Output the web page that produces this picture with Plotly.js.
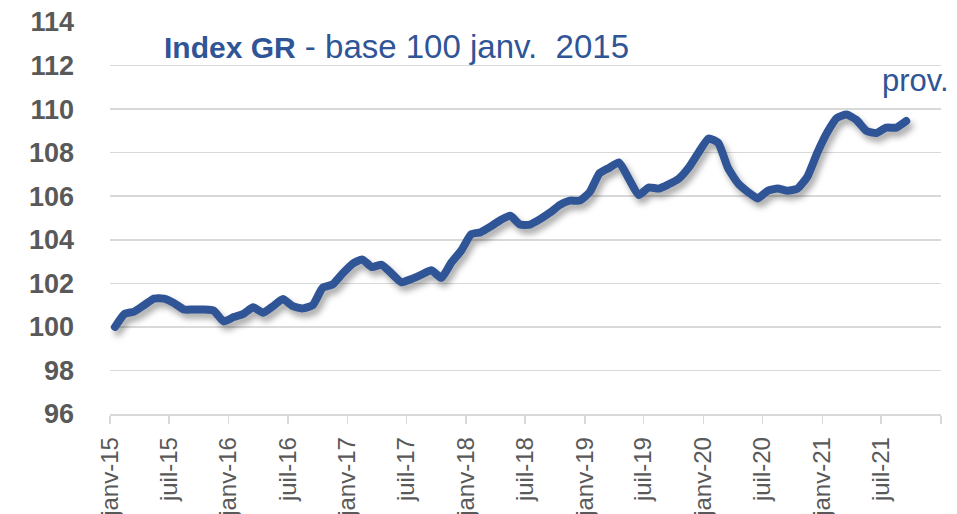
<!DOCTYPE html>
<html>
<head>
<meta charset="utf-8">
<script src="https://cdn.plot.ly/plotly-3.0.1.min.js"></script>
<style>
  html, body { margin: 0; padding: 0; background: #fff; }
  #chart { width: 957px; height: 514px; }
  .scatterlayer .js-line {
    stroke-linejoin: round !important;
    stroke-linecap: round !important;
    filter: drop-shadow(3px 5px 3px rgba(0,0,0,0.35));
  }
</style>
</head>
<body>
<div id="chart"></div>
<script>
// Monthly dates (Jan 2015 - Sep 2021)
const months = [
  "2015-01","2015-02","2015-03","2015-04","2015-05","2015-06","2015-07","2015-08","2015-09","2015-10","2015-11","2015-12",
  "2016-01","2016-02","2016-03","2016-04","2016-05","2016-06","2016-07","2016-08","2016-09","2016-10","2016-11","2016-12",
  "2017-01","2017-02","2017-03","2017-04","2017-05","2017-06","2017-07","2017-08","2017-09","2017-10","2017-11","2017-12",
  "2018-01","2018-02","2018-03","2018-04","2018-05","2018-06","2018-07","2018-08","2018-09","2018-10","2018-11","2018-12",
  "2019-01","2019-02","2019-03","2019-04","2019-05","2019-06","2019-07","2019-08","2019-09","2019-10","2019-11","2019-12",
  "2020-01","2020-02","2020-03","2020-04","2020-05","2020-06","2020-07","2020-08","2020-09","2020-10","2020-11","2020-12",
  "2021-01","2021-02","2021-03","2021-04","2021-05","2021-06","2021-07","2021-08","2021-09"
];

// Index GR values (base 100 = janv. 2015)
const indexGR = [
  100.0, 100.6, 100.7, 101.0, 101.3, 101.3, 101.1, 100.8, 100.8, 100.8, 100.75, 100.25,
  100.45, 100.6, 100.9, 100.65, 100.95, 101.28, 100.95, 100.85, 101.0, 101.8, 101.95, 102.45,
  102.9, 103.1, 102.75, 102.85, 102.45, 102.05, 102.2, 102.4, 102.6, 102.25, 102.95, 103.5,
  104.25, 104.35, 104.6, 104.9, 105.1, 104.7, 104.7, 104.95, 105.25, 105.6, 105.8, 105.8,
  106.2, 107.05, 107.3, 107.55, 106.8, 106.05, 106.4, 106.35, 106.55, 106.8, 107.3, 108.0,
  108.65, 108.45, 107.3, 106.6, 106.2, 105.9, 106.25, 106.35, 106.25, 106.35, 106.9, 108.0,
  108.95, 109.6, 109.75, 109.5, 109.0, 108.9, 109.15, 109.15, 109.45
];

// X tick positions and labels
const tickDates = [
  "2015-01-01","2015-07-01","2016-01-01","2016-07-01","2017-01-01","2017-07-01","2018-01-01",
  "2018-07-01","2019-01-01","2019-07-01","2020-01-01","2020-07-01","2021-01-01","2021-07-01","2022-01-01"
];
const tickLabels = [
  "janv-15","juil-15","janv-16","juil-16","janv-17","juil-17","janv-18",
  "juil-18","janv-19","juil-19","janv-20","juil-20","janv-21","juil-21",""
];

const yTicks = [96, 98, 100, 102, 104, 106, 108, 110, 112, 114];

const blue = "#2F5597";
const grey = "#595959";
const gridc = "#D9D9D9";
const fontFam = "Arial, 'Liberation Sans', sans-serif";

const trace = {
  x: months,
  y: indexGR,
  xperiod: "M1",
  xperiodalignment: "middle",
  type: "scatter",
  mode: "lines",
  line: { color: blue, width: 8, shape: "spline", smoothing: 0.5 },
  hoverinfo: "x+y"
};

const layout = {
  width: 957,
  height: 514,
  margin: { l: 110, r: 16, t: 22, b: 100, pad: 0 },
  paper_bgcolor: "#fff",
  plot_bgcolor: "#fff",
  showlegend: false,
  font: { family: fontFam, color: grey },
  xaxis: {
    type: "date",
    range: ["2015-01-01", "2022-01-01"],
    tickmode: "array",
    tickvals: tickDates,
    ticktext: tickLabels,
    tickangle: -90,
    tickfont: { family: fontFam, size: 24, color: grey },
    showgrid: false,
    zeroline: false,
    showline: true,
    linecolor: gridc,
    linewidth: 1.5,
    ticks: "outside",
    ticklen: 8,
    tickwidth: 1.5,
    tickcolor: gridc,
    ticklabelstandoff: 4,
    fixedrange: true
  },
  yaxis: {
    range: [96, 114],
    tickmode: "array",
    tickvals: yTicks,
    ticktext: yTicks.map(String),
    tickfont: { family: fontFam, size: 27, color: grey, weight: "bold" },
    showgrid: true,
    gridcolor: gridc,
    gridwidth: 1.5,
    zeroline: false,
    showline: false,
    ticks: "",
    ticklabelstandoff: 35,
    fixedrange: true
  },
  annotations: [
    {
      xref: "paper", yref: "paper",
      x: 0.063, y: 0.938,
      xanchor: "left", yanchor: "middle",
      showarrow: false,
      text: "<b><span style=\"font-size:30px\">Index GR</span></b> - base 100 janv.  2015",
      font: { family: fontFam, size: 33, color: blue }
    },
    {
      xref: "paper", yref: "paper",
      x: 1.012, y: 0.85,
      xanchor: "right", yanchor: "middle",
      showarrow: false,
      text: "prov.",
      font: { family: fontFam, size: 31, color: blue }
    }
  ]
};

Plotly.newPlot("chart", [trace], layout, { displayModeBar: false, staticPlot: true });
</script>
</body>
</html>
